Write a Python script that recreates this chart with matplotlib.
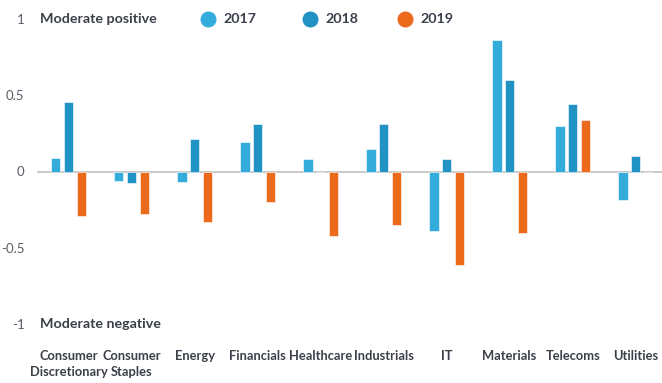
import numpy as np
import matplotlib.pyplot as plt
from matplotlib.lines import Line2D

categories = ["Consumer\nDiscretionary", "Consumer\nStaples", "Energy", "Financials",
              "Healthcare", "Industrials", "IT", "Materials", "Telecoms", "Utilities"]
years = ["2017", "2018", "2019"]
vals_2017 = [0.09, -0.065, -0.07, 0.195, 0.083, 0.15, -0.39, 0.86, 0.30, -0.19]
vals_2018 = [0.455, -0.077, 0.21, 0.31, 0.0, 0.31, 0.083, 0.60, 0.445, 0.10]
vals_2019 = [-0.295, -0.28, -0.33, -0.20, -0.42, -0.35, -0.61, -0.40, 0.335, 0.0]
colors = ["#33acdc", "#2192c4", "#ec6a1c"]

text_col = "#3b3f4a"
tick_col = "#5a5d66"
plt.rcParams["font.family"] = ["Lato", "DejaVu Sans"]

W, H = 662, 383
fig = plt.figure(figsize=(W / 100, H / 100), dpi=100)
ax = fig.add_axes([37 / W, (H - 324) / H, 627 / W, 305 / H])

x = np.arange(len(categories))
width = 0.145
offset = 0.2
for i, vals in enumerate([vals_2017, vals_2018, vals_2019]):
    ax.bar(x + (i - 1) * offset, vals, width, color=colors[i],
           edgecolor="#ffffff", linewidth=0.4, zorder=2)

ax.axhline(0, color="#c9c9c9", linewidth=1.4, zorder=1)
ax.set_xlim(-0.5, 9.45)
ax.set_ylim(-1, 1)
ax.set_yticks([1, 0.5, 0, -0.5, -1])
ax.set_yticklabels(["1", "0.5", "0", "-0.5", "-1"])
ax.tick_params(axis="y", length=0, pad=9, labelsize=9.5, labelcolor=tick_col)
ax.set_xticks(x)
ax.set_xticklabels(categories, fontsize=9.3, fontweight="bold", color=text_col,
                   linespacing=1.35, va="top")
ax.tick_params(axis="x", length=0, pad=19)
for s in ax.spines.values():
    s.set_visible(False)
ax.patch.set_alpha(0)

# annotations at the ends of the scale
fig.text(40 / W, 1 - 19 / H, "Moderate positive", fontsize=10.3, fontweight="bold",
         color=text_col, va="center", ha="left")
fig.text(40 / W, 1 - 324 / H, "Moderate negative", fontsize=10.3, fontweight="bold",
         color=text_col, va="center", ha="left")

# legend row
for cx, year, c in zip([207.5, 310, 405], years, colors):
    fig.add_artist(Line2D([cx / W], [1 - 19 / H], marker="o", markersize=10.5,
                          color=c, linestyle="none", transform=fig.transFigure))
    fig.text((cx + 15.5) / W, 1 - 19 / H, year, fontsize=10.3, fontweight="bold",
             color=text_col, va="center", ha="left")

fig.savefig("out.png", dpi=100)
